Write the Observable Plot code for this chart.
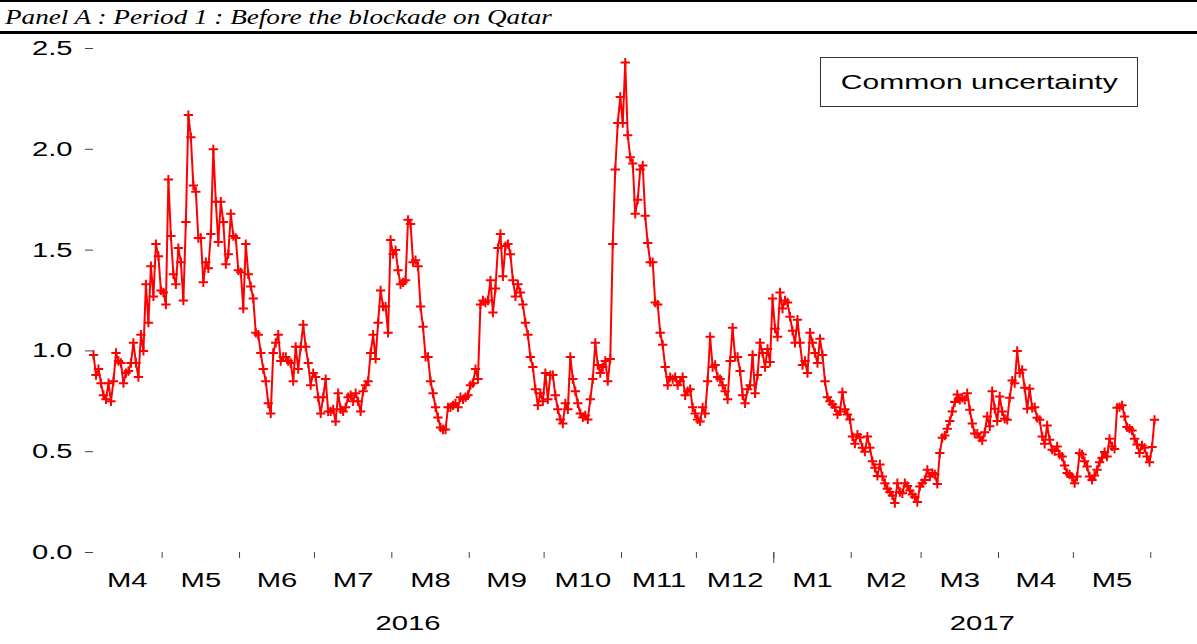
<!DOCTYPE html>
<html>
<head>
<meta charset="utf-8">
<script src="https://cdn.jsdelivr.net/npm/d3@7"></script>
<script src="https://cdn.jsdelivr.net/npm/@observablehq/plot@0.6"></script>
<style>
  html, body { margin: 0; padding: 0; background: #fff; }
  body { width: 1197px; height: 644px; overflow: hidden; position: relative; font-family: "Liberation Sans", Arial, sans-serif; }
  #title { position: absolute; left: 0; top: 0; width: 1197px; height: 29px; border-top: 2px solid #000; border-bottom: 3px solid #000; }
  #title span { position: absolute; left: 5px; top: 2px; display: inline-block; white-space: nowrap; font-family: "Liberation Serif", "Times New Roman", serif; font-style: italic; font-size: 22px; line-height: 25px; color: #000; transform-origin: 0 50%; }
  #chart { position: absolute; left: 0; top: 36px; width: 1197px; height: 608px; }
  #legend { position: absolute; left: 820px; top: 57px; width: 316px; height: 48px; border: 1px solid #333; display: flex; align-items: center; justify-content: center; background: #fff; }
  #legend span { display: inline-block; font-size: 20px; white-space: nowrap; color: #000; }
</style>
</head>
<body>
<div id="title"><span id="titleText">Panel A : Period 1 : Before the blockade on Qatar</span></div>
<div id="chart"></div>
<div id="legend"><span id="legendText"></span></div>
<script>
// ---- data (daily) ----
const startDate = "2016-04-03";
const seriesName = "Common uncertainty";
const commonUncertainty = [
  // Apr - Jun 2016
  0.98, 0.88, 0.91, 0.84, 0.78, 0.76, 0.84, 0.75, 0.85, 0.99,
  0.95, 0.94, 0.84, 0.89, 0.90, 0.94, 1.04, 0.94, 0.87, 1.08,
  1.00, 1.33, 1.14, 1.42, 1.27, 1.53, 1.47, 1.30, 1.29, 1.23,
  1.85, 1.57, 1.38, 1.33, 1.51, 1.44, 1.25, 1.64, 2.17, 2.06,
  1.82, 1.79, 1.56, 1.56, 1.34, 1.44, 1.41, 1.58, 2.00, 1.74,
  1.54, 1.74, 1.64, 1.43, 1.48, 1.68, 1.57, 1.56, 1.40, 1.39,
  1.21, 1.53, 1.38, 1.32, 1.26, 1.09, 1.08, 0.99, 0.91, 0.85,
  0.74, 0.69,
  // Jun - Aug 2016
  0.99, 1.04, 1.08, 0.95, 0.97, 0.97, 0.95, 0.94, 0.85, 1.02,
  0.91, 1.02, 1.13, 1.02, 0.94, 0.83, 0.89, 0.87, 0.77, 0.69,
  0.77, 0.86, 0.70, 0.70, 0.71, 0.65, 0.79, 0.71, 0.70, 0.72,
  0.77, 0.78, 0.75, 0.79, 0.75, 0.70, 0.80, 0.83, 0.85, 0.99,
  1.08, 0.96, 1.14, 1.30, 1.22, 1.22, 1.09, 1.55, 1.48, 1.50,
  1.40, 1.33, 1.34, 1.35, 1.65, 1.63, 1.44, 1.45, 1.42, 1.22,
  1.12, 0.97, 0.97, 0.85, 0.79, 0.72, 0.67, 0.62, 0.61, 0.61,
  // Aug - Oct 2016
  0.72, 0.72, 0.73, 0.74, 0.72, 0.77, 0.76, 0.77, 0.78, 0.83,
  0.84, 0.91, 0.86, 1.23, 1.25, 1.24, 1.25, 1.35, 1.19, 1.31,
  1.51, 1.58, 1.37, 1.52, 1.53, 1.48, 1.35, 1.27, 1.33, 1.29,
  1.23, 1.14, 1.08, 0.97, 0.92, 0.81, 0.73, 0.79, 0.75, 0.89,
  0.76, 0.88, 0.88, 0.78, 0.71, 0.66, 0.64, 0.74, 0.71, 0.97,
  0.86, 0.80, 0.74, 0.69, 0.67, 0.68, 0.66, 0.76, 0.86, 1.04,
  0.93, 0.89, 0.92, 0.95, 0.85, 0.96, 1.53, 1.90, 2.13, 2.26,
  2.13,
  // Nov 2016
  2.43, 2.07, 1.96, 1.93, 1.68, 1.75, 1.90, 1.92, 1.67,
  // Nov 2016 - Jan 2017
  1.535, 1.44, 1.44, 1.24, 1.23, 1.09, 1.03, 0.92, 0.83, 0.87,
  0.86, 0.87, 0.83, 0.85, 0.87, 0.78, 0.80, 0.81, 0.72, 0.69,
  0.66, 0.65, 0.72, 0.69, 0.85, 1.07, 0.92, 0.93, 0.87, 0.86,
  0.83, 0.80, 0.76, 0.95, 1.115, 0.97, 0.97, 0.90, 0.78, 0.74,
  0.81, 0.83, 0.98, 0.79, 0.88, 1.04, 0.99, 0.92, 1.01, 0.945,
  1.26, 1.11, 1.07, 1.29, 1.21, 1.25, 1.24, 1.17, 1.10, 1.04,
  // Jan - Mar 2017
  1.155, 1.04, 0.93, 0.95, 0.89, 1.09, 1.04, 0.99, 0.94, 1.06,
  0.98, 0.85, 0.77, 0.75, 0.735, 0.72, 0.685, 0.70, 0.795, 0.71,
  0.685, 0.66, 0.575, 0.54, 0.585, 0.57, 0.52, 0.50, 0.575, 0.52,
  0.453, 0.42, 0.38, 0.437, 0.377, 0.344, 0.316, 0.30, 0.283, 0.245,
  0.344, 0.30, 0.294, 0.344, 0.33, 0.308, 0.288, 0.275, 0.25, 0.328,
  0.344, 0.36, 0.41, 0.377, 0.394, 0.387, 0.34, 0.493, 0.569, 0.58,
  0.614, 0.652, 0.70, 0.746, 0.784, 0.757, 0.767, 0.757, 0.79, 0.708,
  0.64, 0.59,
  // Mar - Jun 2017
  0.59, 0.57, 0.556, 0.597, 0.675, 0.626, 0.80, 0.713, 0.652, 0.774,
  0.70, 0.663, 0.658, 0.767, 0.853, 0.84, 1.00,
  0.89, 0.906, 0.817, 0.713, 0.812, 0.718, 0.721, 0.668, 0.658, 0.576,
  0.539, 0.63, 0.559, 0.51, 0.503, 0.526, 0.486, 0.476, 0.432, 0.394,
  0.387, 0.374, 0.344, 0.377, 0.493, 0.486, 0.453, 0.427, 0.377, 0.36,
  0.382, 0.41, 0.448, 0.47, 0.498, 0.476, 0.564, 0.526, 0.514, 0.718,
  0.721,
  0.73, 0.675, 0.622, 0.614, 0.605, 0.564, 0.536, 0.493, 0.531, 0.519,
  0.476, 0.448, 0.523, 0.658
];
const monthLabels = ["M4","M5","M6","M7","M8","M9","M10","M11","M12","M1","M2","M3","M4","M5"];
const yearLabels = ["2016", "2017"];
const yearLabelDates = ["2016-08-07", "2017-03-25"];
const yTicks = [0, 0.5, 1.0, 1.5, 2.0, 2.5];

// ---- build ----
const HALF = 12 * 3600 * 1000;
const t0 = new Date(startDate + "T00:00:00Z");
const data = commonUncertainty.map((v, i) => ({date: d3.utcDay.offset(t0, i), value: v}));
const t1 = data[data.length - 1].date;

const monthStarts = d3.utcMonths(d3.utcMonth.floor(t0), d3.utcMonth.offset(d3.utcMonth.floor(t1), 1));
const boundaries = monthStarts.slice(1)
  .concat([d3.utcMonth.offset(monthStarts[monthStarts.length - 1], 1)])
  .map(d => new Date(+d - HALF));
const yearBoundaries = boundaries.filter(b => new Date(+b + HALF).getUTCMonth() === 0);
const monthCenters = monthStarts.map(m => {
  const lo = Math.max(+m - HALF, +t0 - HALF);
  const hi = Math.min(+d3.utcMonth.offset(m, 1) - HALF, +t1 + HALF);
  return new Date((lo + hi) / 2);
});
const monthLabelByTime = new Map(monthCenters.map((d, i) => [+d, monthLabels[i]]));
const yearDates = yearLabelDates.map(s => new Date(s + "T00:00:00Z"));
const yearLabelByTime = new Map(yearDates.map((d, i) => [+d, yearLabels[i]]));

const tickColor = "#444";
const chart = Plot.plot({
  width: 1197,
  height: 608,
  marginTop: 12,
  marginBottom: 92,
  marginLeft: 93,
  marginRight: 43,
  style: {background: "transparent", fontFamily: "'Liberation Sans', Arial, sans-serif", fontSize: "20px", color: "#000", overflow: "visible"},
  x: {type: "utc", domain: [t0, t1], axis: null},
  y: {domain: [0, 2.5], axis: null},
  marks: [
    Plot.axisY(yTicks, {anchor: "left", label: null, tickSize: 8, tickPadding: 13, tickFormat: d3.format(".1f"), fontSize: 20, stroke: tickColor, fill: "#000"}),
    Plot.axisX(boundaries, {anchor: "bottom", label: null, tickSize: 6, tickFormat: () => "", stroke: tickColor}),
    Plot.axisX(yearBoundaries, {anchor: "bottom", label: null, tickSize: 11, tickFormat: () => "", stroke: tickColor}),
    Plot.axisX(monthCenters, {anchor: "bottom", label: null, tickSize: 0, tickPadding: 20, tickFormat: d => monthLabelByTime.get(+d), fontSize: 20, fill: "#000"}),
    Plot.axisX(yearDates, {anchor: "bottom", label: null, tickSize: 0, tickPadding: 63, tickFormat: d => yearLabelByTime.get(+d), fontSize: 20, fill: "#000"}),
    Plot.line(data, {x: "date", y: "value", stroke: "#ff0000", strokeWidth: 2}),
    Plot.dot(data, {x: "date", y: "value", symbol: "plus", r: 3.1, stroke: "#ff0000", strokeWidth: 2})
  ]
});
document.getElementById("chart").append(chart);

// The reference uses horizontally stretched type
const STRETCH = 1.46;
chart.querySelectorAll("text").forEach(t => {
  const w = t.getComputedTextLength();
  if (w > 0) {
    t.setAttribute("textLength", (w * STRETCH).toFixed(1));
    t.setAttribute("lengthAdjust", "spacingAndGlyphs");
  }
});

const legendText = document.getElementById("legendText");
legendText.textContent = seriesName;
legendText.style.transform = `scaleX(${STRETCH + 0.04})`;

const titleText = document.getElementById("titleText");
const tw = titleText.getBoundingClientRect().width;
titleText.style.transform = `scaleX(${(547 / tw).toFixed(3)})`;
</script>
</body>
</html>
